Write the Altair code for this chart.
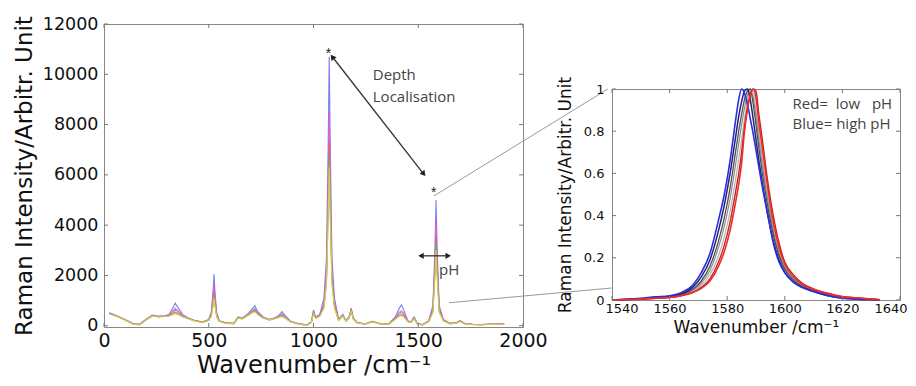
import altair as alt
import pandas as pd

# ---------------- Left panel data (full spectra) ----------------
x_left = [25, 60, 100, 140, 170, 200, 230, 260, 290, 310,
          325, 340, 355, 375, 400, 430, 470, 500, 512, 520,
          525, 530, 538, 550, 580, 620, 640, 660, 690, 705,
          720, 735, 760, 790, 820, 835, 850, 865, 890, 930,
          970, 990, 1000, 1010, 1030, 1050, 1062, 1070, 1075, 1080,
          1088, 1100, 1120, 1140, 1155, 1170, 1180, 1190, 1210, 1250,
          1280, 1320, 1360, 1390, 1410, 1420, 1430, 1450, 1465, 1480,
          1495, 1520, 1550, 1570, 1580, 1585, 1590, 1600, 1620, 1650,
          1680, 1700, 1720, 1760, 1800, 1850, 1910]

blue = [520, 400, 250, 80, 60, 250, 420, 380, 400, 450,
        650, 900, 700, 450, 320, 220, 150, 250, 550, 1300,
        2050, 1300, 520, 200, 120, 100, 350, 300, 500, 650,
        800, 550, 350, 250, 330, 420, 560, 400, 180, 80,
        40, 150, 620, 350, 450, 1100, 2700, 7100, 10700, 7100,
        2700, 1100, 250, 450, 200, 350, 700, 300, 120, 80,
        180, 80, 80, 350, 700, 830, 650, 200, 150, 350,
        100, 40, 200, 800, 3100, 5000, 3100, 800, 250, 100,
        120, 200, 100, 60, 50, 70, 80]

grey = [510, 395, 245, 75, 55, 245, 410, 375, 395, 430,
        560, 700, 580, 420, 310, 215, 145, 240, 450, 1050,
        1600, 1050, 430, 195, 115, 95, 340, 295, 470, 600,
        700, 500, 330, 245, 320, 390, 480, 360, 175, 75,
        38, 145, 580, 330, 410, 850, 2000, 5200, 7800, 5200,
        2000, 850, 240, 430, 195, 340, 660, 290, 115, 78,
        175, 78, 78, 320, 540, 600, 500, 190, 145, 330,
        95, 38, 190, 650, 2450, 4000, 2450, 650, 230, 95,
        115, 195, 95, 58, 48, 68, 78]

magenta = [500, 390, 240, 70, 50, 240, 400, 370, 390, 420,
           520, 650, 550, 400, 300, 210, 140, 230, 470, 1100,
           1700, 1100, 450, 190, 110, 90, 330, 290, 460, 560,
           650, 480, 320, 240, 310, 370, 450, 340, 170, 70,
           35, 140, 560, 320, 400, 900, 2200, 5700, 8500, 5700,
           2200, 900, 230, 420, 190, 330, 640, 280, 110, 75,
           170, 75, 75, 300, 500, 550, 460, 180, 140, 320,
           90, 35, 180, 680, 2600, 4200, 2600, 680, 220, 90,
           110, 190, 90, 55, 45, 65, 75]

red = [490, 385, 235, 65, 45, 235, 390, 360, 380, 400,
       460, 550, 480, 370, 290, 205, 135, 220, 400, 880,
       1300, 880, 380, 185, 105, 85, 320, 280, 440, 530,
       600, 450, 310, 235, 300, 350, 400, 320, 165, 65,
       30, 135, 520, 310, 390, 780, 1900, 4900, 7300, 4900,
       1900, 780, 220, 400, 185, 320, 600, 270, 105, 70,
       165, 70, 70, 270, 420, 450, 390, 170, 135, 300,
       85, 30, 170, 600, 2250, 3600, 2250, 600, 210, 85,
       105, 180, 85, 50, 40, 60, 70]

green = [480, 380, 230, 60, 40, 230, 385, 355, 370, 390,
         440, 500, 450, 360, 285, 200, 130, 215, 380, 820,
         1200, 820, 360, 180, 100, 80, 310, 275, 430, 520,
         580, 440, 305, 230, 295, 340, 380, 310, 160, 60,
         28, 130, 500, 300, 380, 740, 1750, 4500, 6700, 4500,
         1750, 740, 210, 390, 180, 310, 580, 260, 100, 68,
         160, 68, 68, 260, 400, 420, 370, 165, 130, 290,
         80, 28, 165, 560, 2100, 3300, 2100, 560, 200, 80,
         100, 175, 80, 48, 38, 58, 68]

yellow = [470, 375, 225, 55, 35, 225, 380, 350, 365, 385,
          430, 480, 440, 355, 280, 195, 125, 210, 370, 770,
          1100, 770, 350, 175, 95, 75, 300, 270, 420, 500,
          550, 430, 300, 225, 290, 330, 360, 300, 155, 55,
          25, 125, 480, 290, 370, 700, 1650, 4250, 6300, 4250,
          1650, 700, 200, 380, 175, 300, 560, 250, 95, 65,
          155, 65, 65, 250, 380, 400, 355, 160, 125, 280,
          75, 25, 160, 520, 1950, 3000, 1950, 520, 190, 75,
          95, 170, 75, 45, 35, 55, 65]

names_left = ["blue", "grey", "magenta", "red", "green", "yellow"]
colors_left = ["#6f6ff0", "#a0a0a8", "#e455d2", "#e86060", "#62bf62", "#e3cf50"]
series_left = [blue, grey, magenta, red, green, yellow]

x_ticks_left = [0, 500, 1000, 1500, 2000]
y_ticks_left = [0, 2000, 4000, 6000, 8000, 10000, 12000]

# annotations (left panel, data coordinates)
star_wn = [1072, 1574]
star_I = [10950, 5450]
depth_arrow = {"wn": [1087], "I": [10727], "wn2": [1529], "I2": [6000]}
depth_heads = {"wn": [1090, 1526], "I": [10690, 6040], "ang": [322, 142]}
ph_arrow = {"wn": [1513], "I": [2781], "wn2": [1643], "I2": [2781]}
ph_heads = {"wn": [1513, 1643], "I": [2781, 2781], "sh": ["triangle-left", "triangle-right"]}
left_texts = {"wn": [1283, 1283, 1599], "I": [9972, 9098, 2225],
              "label": ["Depth", "Localisation", "pH"]}
connectors = {"wn": [1575, 1647], "I": [5165, 914], "wn2": [2405, 2424], "I2": [9415, 1501]}

# ---------------- Right panel data (normalised 1585 band) ----------------
x_right = [1540, 1545, 1550, 1555, 1560, 1564, 1568, 1571, 1574, 1577,
           1579, 1581, 1583, 1584, 1585, 1586, 1587, 1588, 1589, 1590,
           1591, 1592, 1594, 1596, 1598, 1600, 1603, 1606, 1610, 1615,
           1620, 1625, 1630, 1633]

r_lightgrey = [0.0, 0.002, 0.004, 0.008, 0.013, 0.022, 0.04, 0.07, 0.12, 0.21,
               0.3, 0.42, 0.58, 0.67, 0.76, 0.86, 0.94, 0.99, 0.99, 0.9,
               0.79, 0.69, 0.5, 0.35, 0.235, 0.16, 0.105, 0.072, 0.048, 0.028,
               0.014, 0.008, 0.003, 0.001]
r_grey = [0.0, 0.002, 0.005, 0.009, 0.014, 0.024, 0.045, 0.08, 0.14, 0.25,
          0.35, 0.48, 0.65, 0.74, 0.83, 0.91, 0.97, 1.0, 0.96, 0.87,
          0.76, 0.66, 0.48, 0.33, 0.22, 0.15, 0.1, 0.07, 0.047, 0.027,
          0.013, 0.007, 0.003, 0.001]
r_darkgrey = [0.0, 0.002, 0.005, 0.01, 0.015, 0.026, 0.05, 0.09, 0.16, 0.28,
              0.39, 0.53, 0.71, 0.8, 0.88, 0.95, 0.99, 1.0, 0.93, 0.83,
              0.72, 0.62, 0.45, 0.31, 0.21, 0.145, 0.095, 0.065, 0.045, 0.025,
              0.012, 0.006, 0.003, 0.001]
r_navy = [0.0, 0.003, 0.006, 0.012, 0.018, 0.03, 0.06, 0.11, 0.19, 0.33,
          0.45, 0.6, 0.78, 0.87, 0.94, 0.99, 1.0, 0.95, 0.86, 0.76,
          0.66, 0.57, 0.41, 0.28, 0.19, 0.13, 0.085, 0.06, 0.04, 0.02,
          0.009, 0.004, 0.002, 0.001]
r_blue = [0.0, 0.003, 0.008, 0.015, 0.02, 0.035, 0.07, 0.13, 0.22, 0.38,
          0.5, 0.66, 0.86, 0.95, 1.0, 0.98, 0.93, 0.86, 0.79, 0.71,
          0.63, 0.55, 0.41, 0.27, 0.18, 0.13, 0.085, 0.06, 0.04, 0.02,
          0.008, 0.004, 0.002, 0.001]
r_red2 = [0.0, 0.002, 0.004, 0.008, 0.012, 0.02, 0.035, 0.06, 0.1, 0.18,
          0.26, 0.37, 0.52, 0.6, 0.7, 0.82, 0.91, 0.97, 1.0, 0.99,
          0.88, 0.78, 0.57, 0.4, 0.27, 0.18, 0.12, 0.08, 0.053, 0.032,
          0.017, 0.011, 0.005, 0.001]
r_red = [0.0, 0.002, 0.004, 0.008, 0.012, 0.02, 0.035, 0.055, 0.09, 0.16,
         0.23, 0.33, 0.47, 0.55, 0.65, 0.8, 0.9, 0.97, 1.0, 0.96,
         0.84, 0.74, 0.54, 0.37, 0.25, 0.17, 0.11, 0.075, 0.05, 0.03,
         0.015, 0.01, 0.004, 0.001]

names_right = ["lightgrey", "grey", "darkgrey", "navy", "blue", "red2", "red"]
series_right = [r_lightgrey, r_grey, r_darkgrey, r_navy, r_blue, r_red2, r_red]
colors_right = ["#b4b4b4", "#8c8c8c", "#505050", "#202078", "#2c2ce6", "#c42424", "#ee2a2a"]
widths_right = [1.2, 1.2, 1.3, 1.5, 1.6, 1.4, 1.6]

x_ticks_right = [1540, 1560, 1580, 1600, 1620, 1640]
y_ticks_right = [0, 0.2, 0.4, 0.6, 0.8, 1]
legend_right = {"wn": [1602.7, 1602.7], "v": [0.929, 0.834],
                "label": ["Red=\u00a0 low\u00a0\u00a0 pH", "Blue= high pH"]}

for s in series_left:
    assert len(s) == len(x_left)
for s in series_right:
    assert len(s) == len(x_right)

# ---------------- Build left panel ----------------
rows = []
for name, ys in zip(names_left, series_left):
    for i, (x, y) in enumerate(zip(x_left, ys)):
        rows.append({"wn": x, "I": y, "series": name, "k": i})
df_left = pd.DataFrame(rows)

LW, LH = 419, 303
X_TITLE = "Wavenumber /cm\u207b\u00b9"
Y_TITLE = "Raman Intensity/Arbitr. Unit"
TICK = "#777777"
AXFONT = "DejaVu Sans"

xs_left = alt.Scale(domain=[0, 2000], nice=False, zero=False)
ys_left = alt.Scale(domain=[-50, 12000], nice=False, zero=False)
x_axis_left = alt.Axis(values=x_ticks_left, ticks=False, grid=False, domain=False,
                       labelFontSize=19, labelPadding=4, titleFontSize=24,
                       titlePadding=3, format="d", labelFlush=False)
y_axis_left = alt.Axis(values=y_ticks_left, ticks=False, grid=False, domain=False,
                       labelFontSize=17.5, labelPadding=6, titleFontSize=23,
                       titlePadding=6, format="d", labelFlush=False)


def LX(f):
    return alt.X(f, type="quantitative", scale=xs_left, axis=x_axis_left, title=X_TITLE)


def LY(f):
    return alt.Y(f, type="quantitative", scale=ys_left, axis=y_axis_left, title=Y_TITLE)


left_lines = alt.Chart(df_left).mark_line(strokeWidth=1.1, opacity=0.9).encode(
    x=LX("wn"), y=LY("I"),
    color=alt.Color("series:N", scale=alt.Scale(domain=names_left, range=colors_left), legend=None),
    order="k:Q",
)

dfx = pd.DataFrame({"wn": x_ticks_left})
dfy = pd.DataFrame({"I": y_ticks_left})
lt_bottom = alt.Chart(dfx).mark_rule(color=TICK).encode(x=LX("wn"), y=alt.value(LH), y2=alt.value(LH - 4))
lt_top = alt.Chart(dfx).mark_rule(color=TICK).encode(x=LX("wn"), y=alt.value(0), y2=alt.value(4))
lt_left = alt.Chart(dfy).mark_rule(color=TICK).encode(y=LY("I"), x=alt.value(0), x2=alt.value(4))
lt_right = alt.Chart(dfy).mark_rule(color=TICK).encode(y=LY("I"), x=alt.value(LW), x2=alt.value(LW - 4))

conn = alt.Chart(pd.DataFrame(connectors)).mark_rule(color="#9a9a9a", strokeWidth=1).encode(
    x=LX("wn"), y=LY("I"), x2="wn2:Q", y2="I2:Q")

stars = alt.Chart(pd.DataFrame({"wn": star_wn, "I": star_I, "label": ["*", "*"]})).mark_text(
    fontSize=14, color="#222", baseline="middle", dy=4, font="Liberation Sans"
).encode(x=LX("wn"), y=LY("I"), text="label:N")

d_arrow = alt.Chart(pd.DataFrame(depth_arrow)).mark_rule(color="#333", strokeWidth=1.3).encode(
    x=LX("wn"), y=LY("I"), x2="wn2:Q", y2="I2:Q")
d_heads = alt.Chart(pd.DataFrame(depth_heads)).mark_point(
    shape="triangle-up", filled=True, size=40, color="#222", opacity=1
).encode(x=LX("wn"), y=LY("I"), angle=alt.Angle("ang:Q", scale=None))

p_arrow = alt.Chart(pd.DataFrame(ph_arrow)).mark_rule(color="#333", strokeWidth=1.3).encode(
    x=LX("wn"), y=LY("I"), x2="wn2:Q", y2="I2:Q")
p_heads = alt.Chart(pd.DataFrame(ph_heads)).mark_point(
    filled=True, size=40, color="#222", opacity=1
).encode(x=LX("wn"), y=LY("I"), shape=alt.Shape("sh:N", scale=None))

l_texts = alt.Chart(pd.DataFrame(left_texts)).mark_text(
    align="left", baseline="middle", fontSize=15, color="#444", font="Open Sans"
).encode(x=LX("wn"), y=LY("I"), text="label:N")

left = alt.layer(
    left_lines, lt_bottom, lt_top, lt_left, lt_right, conn, d_arrow, d_heads,
    p_arrow, p_heads, stars, l_texts
).properties(width=LW, height=LH)

# ---------------- Build right panel ----------------
RW, RH = 288, 211
xs_r = alt.Scale(domain=[1540, 1640], nice=False, zero=False)
ys_r = alt.Scale(domain=[0, 1], nice=False)
x_axis_r = alt.Axis(values=x_ticks_right, ticks=False, grid=False, domain=False,
                    labelFontSize=13, labelPadding=2, titleFontSize=17,
                    titlePadding=4, format="d", labelFlush=True, labelFlushOffset=7)
y_axis_r = alt.Axis(values=y_ticks_right, ticks=False, grid=False, domain=False,
                    labelFontSize=13, labelPadding=8, titleFontSize=17,
                    titlePadding=9, format="~g", labelFlush=False)


def RX(f):
    return alt.X(f, type="quantitative", scale=xs_r, axis=x_axis_r, title=X_TITLE)


def RY(f):
    return alt.Y(f, type="quantitative", scale=ys_r, axis=y_axis_r, title=Y_TITLE)


r_layers = []
for name, ys, col, w in zip(names_right, series_right, colors_right, widths_right):
    d = pd.DataFrame({"wn": x_right, "v": ys, "k": list(range(len(x_right)))})
    r_layers.append(
        alt.Chart(d).mark_line(color=col, strokeWidth=w, interpolate="monotone").encode(
            x=RX("wn"), y=RY("v"), order="k:Q")
    )

drx = pd.DataFrame({"wn": x_ticks_right})
dry = pd.DataFrame({"v": y_ticks_right})
r_layers += [
    alt.Chart(drx).mark_rule(color=TICK).encode(x=RX("wn"), y=alt.value(RH), y2=alt.value(RH - 4)),
    alt.Chart(drx).mark_rule(color=TICK).encode(x=RX("wn"), y=alt.value(0), y2=alt.value(4)),
    alt.Chart(dry).mark_rule(color=TICK).encode(y=RY("v"), x=alt.value(0), x2=alt.value(4)),
    alt.Chart(dry).mark_rule(color=TICK).encode(y=RY("v"), x=alt.value(RW), x2=alt.value(RW - 4)),
    alt.Chart(pd.DataFrame(legend_right)).mark_text(
        align="left", baseline="middle", fontSize=15, color="#444", font="Open Sans"
    ).encode(x=RX("wn"), y=RY("v"), text="label:N"),
]
right = alt.layer(*r_layers).properties(width=RW, height=RH)

spacer = alt.Chart(pd.DataFrame({"a": [0]})).mark_point(opacity=0).encode(
    x=alt.value(0), y=alt.value(0)
).properties(width=RW, height=45, view=alt.ViewBackground(stroke="transparent"))

right_col = alt.vconcat(spacer, right, spacing=20, bounds="flush")

chart = alt.hconcat(left, right_col, spacing=89, bounds="flush").configure_view(
    stroke="#888888", strokeWidth=1
).configure_axis(
    labelFont=AXFONT, titleFont=AXFONT,
    labelColor="#111111", titleColor="#111111", titleFontWeight="normal"
).properties(background="white", padding={"left": 4, "top": 6, "right": 0, "bottom": 0})

chart.save("out.html", embed_options={"renderer": "svg", "actions": False})
